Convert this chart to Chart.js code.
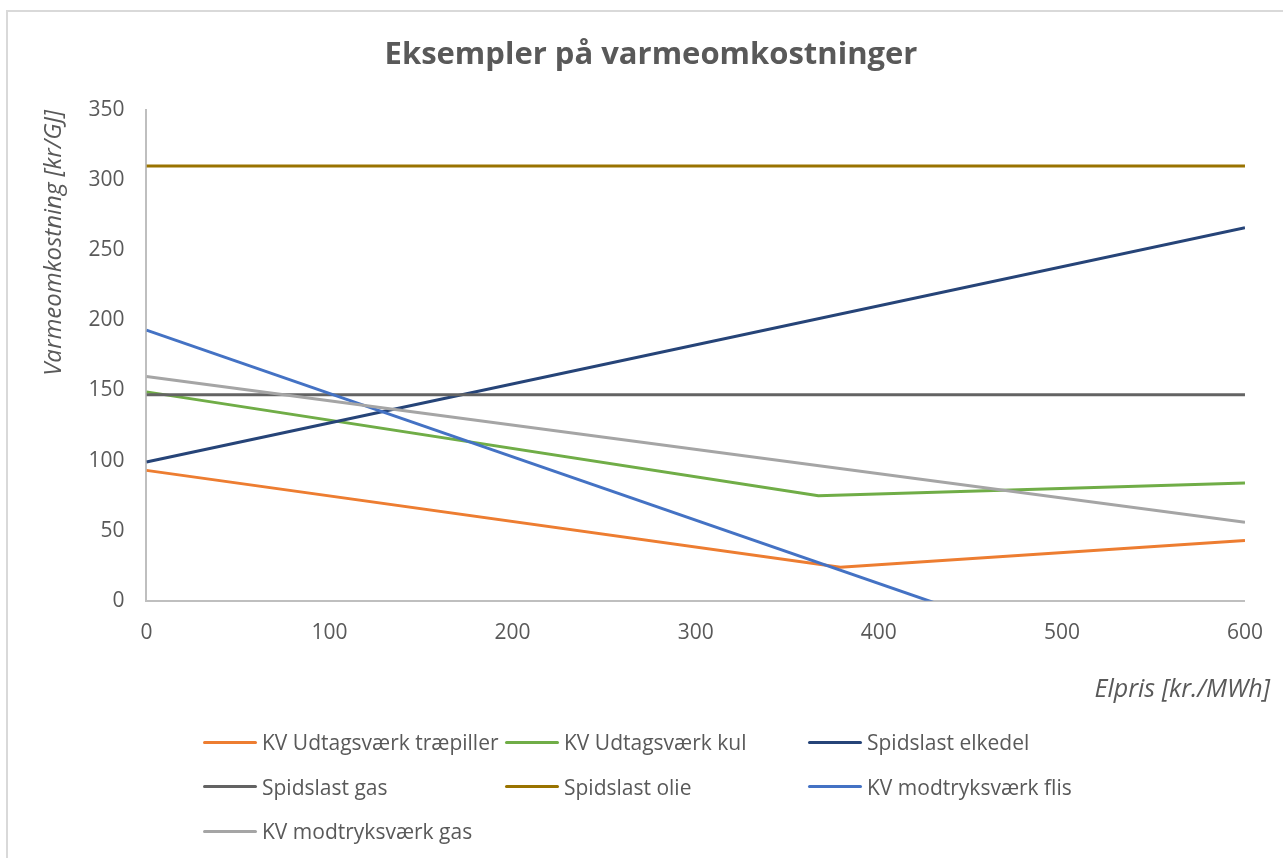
<!DOCTYPE html>
<html>
<head>
  <title>Eksempler på varmeomkostninger</title>
  <script src="https://cdn.jsdelivr.net/npm/chart.js"></script>
  <style>
    html, body { margin: 0; padding: 0; background: #fff; }
    #wrap { position: relative; width: 1283px; height: 858px; overflow: hidden; }
    #frame { position: absolute; left: 6px; top: 10px; right: -10px; bottom: -10px;
             border-top: 2px solid #d9d9d9; border-left: 2px solid #d9d9d9; }
    #chart { position: absolute; left: 0; top: 0; }
    #legend { position: absolute; left: 203px; top: 720px; display: grid;
              grid-template-columns: 302px 303px 300px; grid-auto-rows: 44.5px;
              font-family: 'Open Sans', sans-serif; font-size: 21px; color: #595959; }
    #legend .item { display: flex; align-items: center; white-space: nowrap; }
    #legend .swatch { width: 54px; height: 3px; margin-right: 5px; border-radius: 2px; }
  </style>
</head>
<body>
<div id="wrap">
  <div id="frame"></div>
  <canvas id="chart" width="1283" height="858"></canvas>
  <div id="legend"></div>
</div>

<script>
  // Elpris [kr./MWh] -> varmeomkostning [kr/GJ]
  const seriesNames = [
    'KV Udtagsværk træpiller',
    'KV Udtagsværk kul',
    'Spidslast elkedel',
    'Spidslast gas',
    'Spidslast olie',
    'KV modtryksværk flis',
    'KV modtryksværk gas'
  ];
  const seriesColors = ['#ED7D31', '#70AD47', '#264478', '#636363', '#997300', '#4472C4', '#A5A5A5'];

  const traepillerX = [0, 379, 600];
  const traepillerY = [93, 24, 43];
  const kulX = [0, 367, 600];
  const kulY = [149, 75, 84];
  const elkedelX = [0, 600];
  const elkedelY = [99, 266];
  const gasSpidsX = [0, 600];
  const gasSpidsY = [147, 147];
  const olieX = [0, 600];
  const olieY = [310, 310];
  const flisX = [0, 600];
  const flisY = [193, -78];
  const modGasX = [0, 600];
  const modGasY = [160, 56];

  const seriesX = [traepillerX, kulX, elkedelX, gasSpidsX, olieX, flisX, modGasX];
  const seriesY = [traepillerY, kulY, elkedelY, gasSpidsY, olieY, flisY, modGasY];

  const chartTitle = 'Eksempler på varmeomkostninger';
  const xTitle = 'Elpris [kr./MWh]';
  const yTitle = 'Varmeomkostning [kr/GJ]';

  const textColor = '#595959';
  const axisColor = '#BFBFBF';
  const fontFamily = "'Open Sans', sans-serif";

  const datasets = seriesNames.map(function (name, i) {
    return {
      label: name,
      data: seriesX[i].map(function (x, j) { return { x: x, y: seriesY[i][j] }; }),
      borderColor: seriesColors[i],
      backgroundColor: seriesColors[i],
      borderWidth: 3,
      pointRadius: 0,
      fill: false,
      tension: 0,
      clip: 0,
      order: seriesNames.length - i   // later series on top, like Excel
    };
  });

  // main title is centred a bit right of the plot, x title sits at the far right
  const titlesPlugin = {
    id: 'titles',
    afterDraw: function (chart) {
      const ctx = chart.ctx;
      const area = chart.chartArea;
      ctx.save();
      ctx.fillStyle = textColor;
      ctx.textBaseline = 'middle';

      ctx.font = 'bold 31px ' + fontFamily;
      ctx.textAlign = 'center';
      ctx.fillText(chartTitle, 651, area.top - 55);

      ctx.font = 'italic 25px ' + fontFamily;
      ctx.textAlign = 'right';
      ctx.fillText(xTitle, area.right + 25, area.bottom + 89);
      ctx.restore();
    }
  };

  new Chart(document.getElementById('chart'), {
    type: 'line',
    data: { datasets: datasets },
    options: {
      responsive: false,
      animation: false,
      layout: { padding: { left: 30, right: 38, top: 110, bottom: 192 } },
      plugins: {
        legend: { display: false },
        tooltip: { enabled: false },
        title: { display: false }
      },
      scales: {
        x: {
          type: 'linear',
          min: 0,
          max: 600,
          ticks: { stepSize: 100, color: textColor, padding: 20, font: { family: fontFamily, size: 21 } },
          grid: { display: false, drawTicks: false },
          border: { display: true, color: axisColor, width: 2 }
        },
        y: {
          min: 0,
          max: 350,
          ticks: { stepSize: 50, color: textColor, padding: 22, font: { family: fontFamily, size: 21 } },
          grid: { display: false, drawTicks: false },
          border: { display: true, color: axisColor, width: 2 },
          title: {
            display: true,
            text: yTitle,
            align: 'end',
            color: textColor,
            font: { family: fontFamily, size: 24, style: 'italic' },
            padding: { top: 9.6, bottom: -2 }
          }
        }
      }
    },
    plugins: [titlesPlugin]
  });

  // legend in three columns, as in the original
  const legendEl = document.getElementById('legend');
  seriesNames.forEach(function (name, i) {
    const item = document.createElement('div');
    item.className = 'item';
    const sw = document.createElement('span');
    sw.className = 'swatch';
    sw.style.background = seriesColors[i];
    const label = document.createElement('span');
    label.textContent = name;
    item.appendChild(sw);
    item.appendChild(label);
    legendEl.appendChild(item);
  });
</script>
</body>
</html>
